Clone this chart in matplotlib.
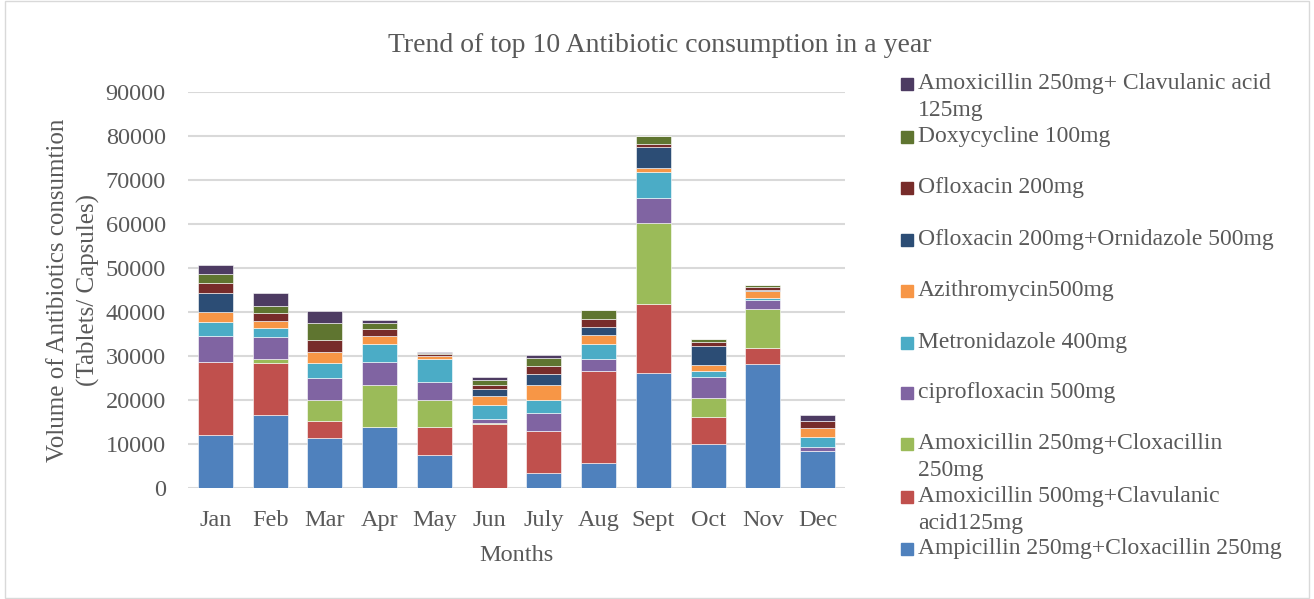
import matplotlib.pyplot as plt
from matplotlib.patches import Rectangle
import numpy as np

plt.rcParams['font.family'] = ['Liberation Serif', 'DejaVu Serif']

meses = ["Jan", "Feb", "Mar", "Apr", "May", "Jun", "July", "Aug", "Sept", "Oct", "Nov", "Dec"]

# valores por medicamento (de baixo para cima na pilha)
ampicilina_cloxa = [12050, 16600, 11300, 13950, 7500, 0, 3400, 5750, 26200, 10080, 28100, 8400]
amoxi500_clav = [16650, 11900, 4000, 0, 6350, 14550, 9600, 20900, 15700, 6100, 3800, 0]
amoxi250_cloxa = [0, 800, 4700, 9350, 6250, 200, 0, 0, 18250, 4200, 8800, 0]
ciprofloxacino = [5900, 4950, 5000, 5250, 4100, 1000, 4100, 2750, 5850, 4900, 1950, 1000]
metronidazol = [3100, 2200, 3500, 4100, 5200, 3050, 2950, 3400, 5800, 1350, 600, 2250]
azitromicina = [2300, 1500, 2400, 1900, 700, 2200, 3300, 1900, 1000, 1350, 1550, 1900]
oflox_ornid = [4250, 0, 0, 0, 0, 1450, 2500, 1800, 4800, 4350, 200, 0]
ofloxacino = [2450, 1750, 2650, 1500, 300, 1050, 1800, 2000, 550, 750, 750, 1600]
doxiciclina = [1900, 1650, 3950, 1550, 200, 1050, 1850, 1950, 1850, 850, 400, 0]
amoxi250_clav = [2100, 2900, 2750, 600, 300, 750, 800, 0, 0, 0, 0, 1350]

series = [ampicilina_cloxa, amoxi500_clav, amoxi250_cloxa, ciprofloxacino, metronidazol,
          azitromicina, oflox_ornid, ofloxacino, doxiciclina, amoxi250_clav]
rotulos = ["Ampicillin 250mg+Cloxacillin 250mg",
           "Amoxicillin 500mg+Clavulanic\nacid125mg",
           "Amoxicillin 250mg+Cloxacillin\n250mg",
           "ciprofloxacin 500mg",
           "Metronidazole 400mg",
           "Azithromycin500mg",
           "Ofloxacin 200mg+Ornidazole 500mg",
           "Ofloxacin 200mg",
           "Doxycycline 100mg",
           "Amoxicillin 250mg+ Clavulanic acid\n125mg"]
cores = ["#4F81BD", "#C0504D", "#9BBB59", "#8064A2", "#4BACC6",
         "#F79646", "#2C4D75", "#772C2A", "#5F7530", "#4D3B62"]

W, H = 1314, 599
fig = plt.figure(figsize=(W / 100, H / 100), dpi=100)
ax = fig.add_axes([188 / W, 1 - 488 / H, (845 - 188) / W, (488 - 92) / H])

x = np.arange(len(meses))
base = np.zeros(len(meses))
for valores, cor in zip(series, cores):
    ax.bar(x, valores, bottom=base, width=0.64, color=cor, edgecolor="white", linewidth=0.4, zorder=3)
    base += np.array(valores)

ax.set_xlim(-0.5, len(meses) - 0.5)
ax.set_ylim(0, 90000)
ax.set_yticks(np.arange(0, 90001, 10000))
ax.set_xticks(x)
ax.set_xticklabels(meses)
ax.grid(axis="y", color="#D9D9D9", linewidth=1.5, zorder=0)
for lado in ax.spines.values():
    lado.set_visible(False)
ax.tick_params(axis="both", length=0, labelsize=17.5, labelcolor="#595959")
ax.tick_params(axis="y", pad=16)
ax.tick_params(axis="x", pad=16)

ax.set_xlabel("Months", fontsize=17.5, color="#595959", labelpad=10)
ax.set_ylabel("Volume of Antibiotics consumtion\n(Tablets/ Capsules)", fontsize=18,
              color="#595959", labelpad=4, linespacing=1.45)
fig.text(660 / W, 1 - 45 / H, "Trend of top 10 Antibiotic consumption in a year",
         ha="center", va="center", fontsize=20, color="#595959")

# legenda desenhada à mão, na ordem inversa da pilha
y_legenda = [549, 497, 444, 393, 343, 291, 240, 188, 137, 84]
for rotulo, cor, yl in zip(rotulos, cores, y_legenda):
    fig.patches.append(Rectangle((901 / W, 1 - (yl + 6) / H), 12 / W, 12 / H,
                                 transform=fig.transFigure, color=cor))
    fig.text(918 / W, 1 - (yl - 11) / H, rotulo, ha="left", va="top", fontsize=17,
             color="#595959", linespacing=1.35)

fig.patches.append(Rectangle((5 / W, 1 / H), (W - 10) / W, (H - 2) / H, transform=fig.transFigure,
                             fill=False, edgecolor="#D9D9D9", linewidth=1))

fig.savefig("out.png", dpi=100)
